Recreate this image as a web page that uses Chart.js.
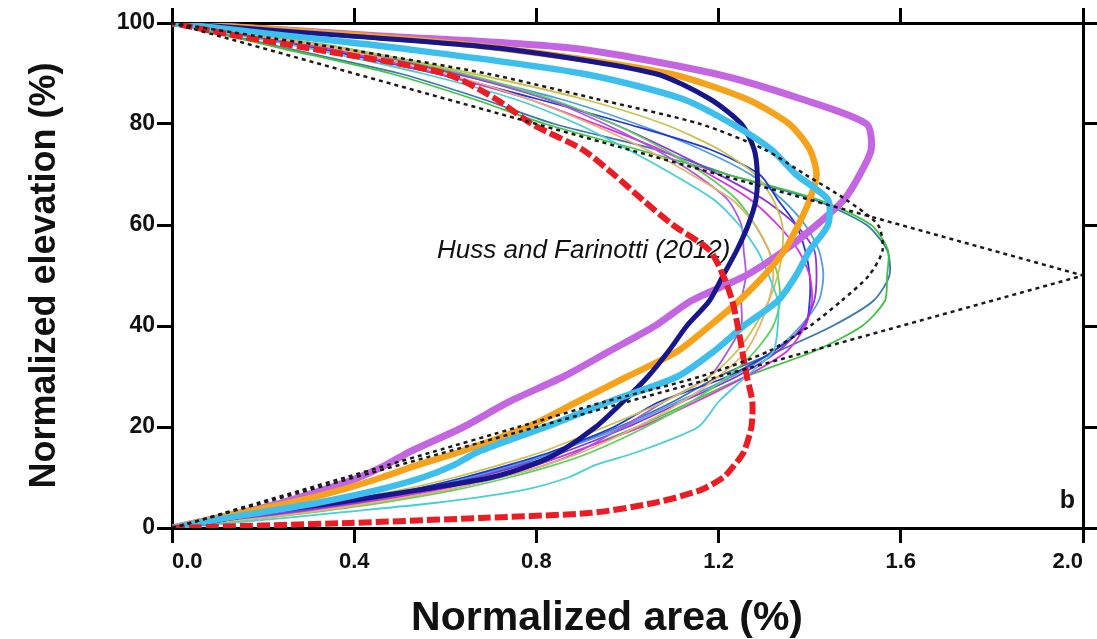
<!DOCTYPE html>
<html>
<head>
<meta charset="utf-8">
<script src="https://cdn.jsdelivr.net/npm/chart.js@4.4.1/dist/chart.umd.min.js"></script>
<style>
  html, body { margin: 0; padding: 0; background: #fff; }
  #wrap { width: 1097px; height: 639px; }
</style>
</head>
<body>
<div id="wrap"><canvas id="hypso" width="1097" height="639"></canvas></div>
<script>
// Normalized elevation levels (%) shared by every curve
const elev = [0, 1, 2, 3, 5, 7.5, 10, 12.5, 15, 20, 25, 30, 35, 40, 45, 50, 55, 60, 65, 70, 75, 80, 85, 90, 95, 97.5, 100];

// Normalized area (%) at each elevation level
const orchidThick = [0, 0.05, 0.10, 0.15, 0.24, 0.33, 0.41, 0.47, 0.52, 0.64, 0.74, 0.86, 0.96, 1.06, 1.14, 1.26, 1.345, 1.415, 1.475, 1.51, 1.535, 1.525, 1.38, 1.19, 0.88, 0.45, 0];
const orangeThick = [0, 0.05, 0.10, 0.15, 0.26, 0.37, 0.46, 0.54, 0.63, 0.78, 0.89, 1.00, 1.11, 1.18, 1.245, 1.30, 1.345, 1.375, 1.40, 1.415, 1.40, 1.355, 1.26, 1.09, 0.72, 0.42, 0];
const navyThick = [0, 0.07, 0.13, 0.19, 0.36, 0.54, 0.70, 0.79, 0.85, 0.93, 0.99, 1.045, 1.09, 1.13, 1.18, 1.21, 1.24, 1.265, 1.282, 1.285, 1.278, 1.25, 1.18, 1.06, 0.72, 0.38, 0];
const skyThick = [0, 0.06, 0.12, 0.19, 0.32, 0.45, 0.55, 0.62, 0.67, 0.82, 0.96, 1.11, 1.19, 1.255, 1.33, 1.37, 1.40, 1.44, 1.44, 1.37, 1.315, 1.23, 1.12, 0.90, 0.50, 0.25, 0];
const redDashed = [0, 0.39, 0.68, 0.92, 1.06, 1.16, 1.21, 1.235, 1.255, 1.272, 1.274, 1.262, 1.252, 1.242, 1.23, 1.21, 1.18, 1.10, 1.033, 0.97, 0.90, 0.79, 0.71, 0.60, 0.30, 0.14, 0];
const hussCurve = [0, 0.04, 0.08, 0.115, 0.19, 0.285, 0.38, 0.475, 0.57, 0.76, 0.95, 1.16, 1.31, 1.40, 1.47, 1.53, 1.56, 1.55, 1.48, 1.39, 1.30, 1.16, 0.93, 0.69, 0.37, 0.18, 0];

// Huss and Farinotti (2012) linear shape
const hussLinElev = [0, 50, 100];
const hussLinArea = [0, 2.0, 0];

// thin glacier curves
const thinSteel = [0, 0.08, 0.16, 0.24, 0.38, 0.54, 0.66, 0.76, 0.84, 0.98, 1.10, 1.20, 1.33, 1.45, 1.54, 1.575, 1.57, 1.525, 1.41, 1.22, 1.06, 0.84, 0.68, 0.50, 0.25, 0.13, 0];
const thinGreen = [0, 0.09, 0.18, 0.26, 0.41, 0.57, 0.70, 0.80, 0.88, 1.02, 1.14, 1.26, 1.41, 1.515, 1.565, 1.57, 1.572, 1.535, 1.42, 1.22, 1.02, 0.82, 0.66, 0.48, 0.24, 0.12, 0];
const thinCyan = [0, 0.13, 0.25, 0.36, 0.58, 0.77, 0.87, 0.93, 1.02, 1.155, 1.20, 1.26, 1.32, 1.33, 1.33, 1.31, 1.285, 1.245, 1.19, 1.10, 1.00, 0.89, 0.75, 0.55, 0.30, 0.15, 0];
const thinMagenta = [0, 0.10, 0.19, 0.27, 0.42, 0.58, 0.70, 0.80, 0.88, 1.03, 1.15, 1.26, 1.35, 1.39, 1.405, 1.40, 1.375, 1.33, 1.27, 1.18, 1.07, 0.93, 0.78, 0.58, 0.34, 0.17, 0];
const thinViolet = [0, 0.09, 0.17, 0.25, 0.40, 0.55, 0.67, 0.77, 0.86, 1.00, 1.12, 1.24, 1.33, 1.385, 1.41, 1.415, 1.41, 1.37, 1.30, 1.20, 1.09, 0.97, 0.82, 0.62, 0.36, 0.18, 0];
const thinLilac = [0, 0.10, 0.19, 0.28, 0.44, 0.60, 0.72, 0.82, 0.89, 0.99, 1.08, 1.18, 1.22, 1.25, 1.25, 1.26, 1.255, 1.25, 1.22, 1.15, 1.06, 0.95, 0.82, 0.63, 0.38, 0.19, 0];
const thinBlue = [0, 0.08, 0.15, 0.22, 0.36, 0.52, 0.64, 0.74, 0.83, 0.97, 1.07, 1.22, 1.32, 1.39, 1.40, 1.40, 1.39, 1.37, 1.33, 1.29, 1.18, 1.00, 0.80, 0.58, 0.32, 0.16, 0];
const thinTan = [0, 0.10, 0.20, 0.29, 0.44, 0.60, 0.72, 0.82, 0.90, 1.02, 1.12, 1.20, 1.26, 1.29, 1.31, 1.32, 1.31, 1.28, 1.23, 1.14, 1.04, 0.92, 0.78, 0.60, 0.36, 0.18, 0];
const thinOlive = [0, 0.07, 0.14, 0.21, 0.34, 0.50, 0.62, 0.72, 0.81, 0.95, 1.08, 1.18, 1.24, 1.28, 1.31, 1.33, 1.34, 1.34, 1.32, 1.28, 1.20, 1.08, 0.90, 0.66, 0.38, 0.19, 0];
const thinLime = [0, 0.11, 0.21, 0.30, 0.46, 0.62, 0.74, 0.84, 0.92, 1.04, 1.14, 1.22, 1.28, 1.32, 1.335, 1.33, 1.31, 1.28, 1.24, 1.17, 1.08, 0.97, 0.83, 0.64, 0.38, 0.19, 0];
const thinSky = [0, 0.08, 0.16, 0.23, 0.37, 0.53, 0.65, 0.75, 0.84, 0.99, 1.11, 1.23, 1.32, 1.38, 1.42, 1.43, 1.42, 1.39, 1.34, 1.27, 1.16, 1.02, 0.85, 0.62, 0.35, 0.17, 0];

const xTicks = [0, 0.4, 0.8, 1.2, 1.6, 2.0];
const yTicks = [0, 20, 40, 60, 80, 100];

const FONT = '"Liberation Sans", Arial, Helvetica, sans-serif';

function pts(areas, levels) {
  levels = levels || elev;
  return areas.map((a, i) => ({ x: a, y: levels[i] }));
}

function curve(areas, color, width, order, extra) {
  return Object.assign({
    data: pts(areas),
    showLine: true,
    borderColor: color,
    borderWidth: width,
    pointRadius: 0,
    tension: 0.25,
    fill: false,
    order: order
  }, extra || {});
}

const thinLines = [
  [thinCyan, '#45d0d4'],
  [thinTan, '#e8b26e'],
  [thinOlive, '#c8c34c'],
  [thinLime, '#5cd35a'],
  [thinLilac, '#a65ae6'],
  [thinViolet, '#8d34de'],
  [thinMagenta, '#e02fdf'],
  [thinBlue, '#2436d6'],
  [thinSky, '#4d9fe0'],
  [thinGreen, '#3ec53e'],
  [thinSteel, '#3a78b0']
];

const datasets = [];
thinLines.forEach(([arr, col], i) => datasets.push(curve(arr, col, 1.8, 10 + i)));
datasets.push(curve(navyThick, '#17168c', 5, 6));
datasets.push(curve(skyThick, '#3dbfee', 6.5, 5));
datasets.push(curve(orangeThick, '#f7a21b', 6.5, 7));
datasets.push(curve(orchidThick, '#c465e2', 7, 8));
datasets.push(curve(redDashed, '#ec1c24', 6, 2, { borderDash: [13, 4] }));
datasets.push(curve(hussCurve, '#1a1a1a', 2.5, 1, { borderDash: [4, 4] }));
datasets.push({
  data: pts(hussLinArea, hussLinElev),
  showLine: true, borderColor: '#1a1a1a', borderWidth: 2.5, borderDash: [4, 4],
  pointRadius: 0, tension: 0, fill: false, order: 0
});

const axisGrid = { drawOnChartArea: false, drawTicks: true, tickLength: 15, lineWidth: 3, color: '#000' };
const axisBorder = { display: true, width: 3, color: '#000' };

const textPlugin = {
  id: 'annot',
  beforeDatasetsDraw(chart) {
    const ctx = chart.ctx;
    ctx.save();
    ctx.fillStyle = '#111';
    ctx.font = 'italic 26px ' + FONT;
    ctx.textAlign = 'left';
    ctx.textBaseline = 'alphabetic';
    ctx.fillText('Huss and Farinotti (2012)', 437, 258);
    ctx.restore();
  },
  afterDraw(chart) {
    const ctx = chart.ctx;
    const a = chart.chartArea;
    ctx.save();
    ctx.fillStyle = '#111';
    ctx.font = 'bold 25px ' + FONT;
    ctx.textAlign = 'right';
    ctx.textBaseline = 'alphabetic';
    ctx.fillText('b', a.right - 8, a.bottom - 20);
    // x axis title, a little left of the plot centre as in the figure
    ctx.font = 'bold 41px ' + FONT;
    ctx.textAlign = 'right';
    ctx.fillText('Normalized area (%)', a.right - 280, 630);
    ctx.restore();
  }
};

new Chart(document.getElementById('hypso'), {
  type: 'scatter',
  data: { datasets: datasets },
  options: {
    responsive: false,
    animation: false,
    layout: { padding: 0 },
    plugins: { legend: { display: false }, tooltip: { enabled: false } },
    scales: {
      x: {
        type: 'linear', position: 'bottom', min: 0, max: 2.0,
        afterBuildTicks: s => { s.ticks = xTicks.map(v => ({ value: v })); },
        afterFit: s => { s.height = 111; },
        grid: axisGrid, border: axisBorder,
        ticks: {
          align: 'inner', padding: 6, color: '#111',
          font: { family: FONT, size: 22, weight: 'bold' },
          callback: v => v.toFixed(1)
        }
      },
      x2: {
        type: 'linear', position: 'top', min: 0, max: 2.0,
        afterBuildTicks: s => { s.ticks = xTicks.map(v => ({ value: v })); },
        afterFit: s => { s.height = 23; },
        grid: axisGrid, border: axisBorder,
        ticks: { display: false }
      },
      y: {
        type: 'linear', position: 'left', min: 0, max: 100,
        afterBuildTicks: s => { s.ticks = yTicks.map(v => ({ value: v })); },
        afterFit: s => { s.width = 172; },
        grid: axisGrid, border: axisBorder,
        ticks: {
          padding: 2, color: '#111',
          font: { family: FONT, size: 23, weight: 'bold' }
        },
        title: {
          display: true, text: 'Normalized elevation (%)', color: '#111',
          font: { family: FONT, size: 36, weight: 'bold', lineHeight: 1 },
          padding: { top: 27, bottom: 0 }
        }
      },
      y2: {
        type: 'linear', position: 'right', min: 0, max: 100,
        afterBuildTicks: s => { s.ticks = yTicks.map(v => ({ value: v })); },
        afterFit: s => { s.width = 14; },
        grid: axisGrid, border: axisBorder,
        ticks: { display: false }
      }
    }
  },
  plugins: [textPlugin]
});
</script>
</body>
</html>
